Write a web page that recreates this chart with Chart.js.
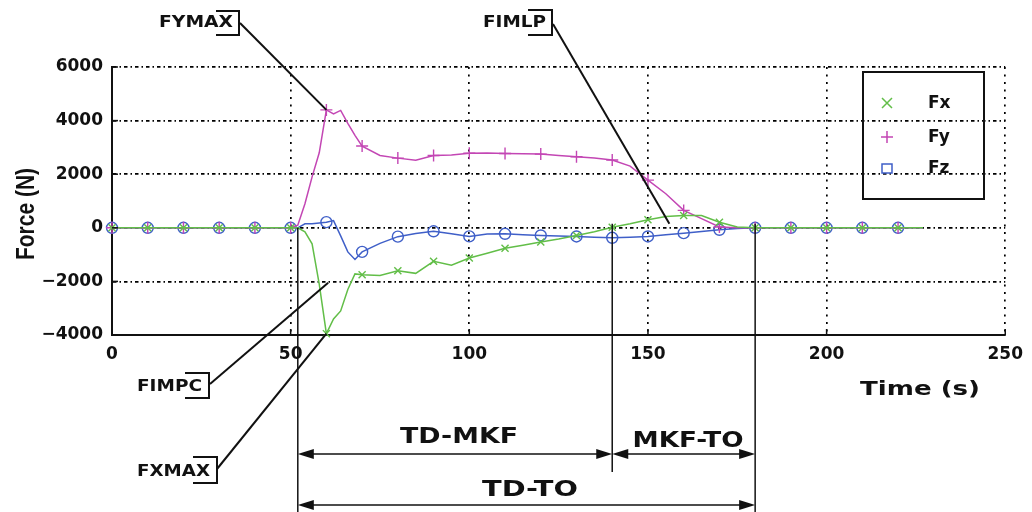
<!DOCTYPE html>
<html>
<head>
<meta charset="utf-8">
<script src="https://cdn.jsdelivr.net/npm/chart.js@4.4.1/dist/chart.umd.min.js"></script>
<style>
html, body { margin: 0; padding: 0; background: #fff; }
canvas { display: block; }
</style>
</head>
<body>
<canvas id="forceChart" width="1032" height="512"></canvas>
<script>
// time samples (s) and force components (N)
const time = [0, 10, 20, 30, 40, 50, 52, 54, 56, 58, 60, 62, 64, 66, 68, 70,
  75, 80, 85, 90, 95, 100, 105, 110, 115, 120, 125, 130, 135, 140, 145, 150, 155, 160, 165, 170, 175,
  180, 190, 200, 210, 220, 227];
const fx = [0, 0, 0, 0, 0, 0, 0, -150, -600, -2100, -3950, -3400, -3100, -2300, -1720, -1750,
  -1780, -1600, -1700, -1250, -1400, -1130, -950, -760, -650, -530, -420, -290, -150, 20, 150, 300, 420, 460, 460, 210, 30,
  0, 0, 0, 0, 0, 0];
const fy = [0, 0, 0, 0, 0, 0, 100, 900, 1900, 2800, 4400, 4250, 4380, 3900, 3450, 3050,
  2700, 2600, 2520, 2700, 2720, 2780, 2790, 2770, 2760, 2750, 2700, 2650, 2600, 2530, 2300, 1780, 1270, 650, 340, 30, 0,
  0, 0, 0, 0, 0, 0];
const fz = [0, 0, 0, 0, 0, 0, 0, 150, 150, 180, 210, 270, -300, -900, -1180, -900,
  -580, -330, -210, -130, -220, -320, -230, -224, -260, -286, -305, -323, -350, -373, -350, -323, -260, -199, -140, -75, -30,
  0, 0, 0, 0, 0, 0];
const markerTimes = [0, 10, 20, 30, 40, 50, 60, 70, 80, 90, 100, 110, 120, 130, 140, 150, 160, 170, 180, 190, 200, 210, 220];
const xTicks = [0, 50, 100, 150, 200, 250];
const yTicks = [-4000, -2000, 0, 2000, 4000, 6000];
const seriesNames = ['Fx', 'Fy', 'Fz'];
const colors = ['#62be48', '#c346b4', '#3f5fc8'];

// phase boundaries (s): touch down, max knee flexion, toe off
const tTD = 52, tMKF = 140, tTO = 180;

function series(label, values, color, style, radius) {
    return {
        label: label,
        data: time.map((t, i) => ({ x: t, y: values[i] })),
        borderColor: color,
        borderWidth: 1.5,
        pointStyle: style,
        pointRadius: ctx => markerTimes.includes(time[ctx.dataIndex]) ? radius : 0,
        pointHoverRadius: 0,
        pointBorderColor: color,
        pointBackgroundColor: 'rgba(0,0,0,0)',
        pointBorderWidth: 1.4,
        tension: 0,
        fill: false,
        clip: false,
    };
}

// stretch text horizontally to a given width
function wideText(ctx, txt, cx, base, w, font) {
    ctx.font = font;
    const m = ctx.measureText(txt).width;
    ctx.save();
    ctx.translate(cx, base);
    ctx.scale(w / m, 1);
    ctx.textAlign = 'center';
    ctx.textBaseline = 'alphabetic';
    ctx.fillText(txt, 0, 0);
    ctx.restore();
}

function line(ctx, x1, y1, x2, y2) {
    ctx.beginPath();
    ctx.moveTo(x1, y1);
    ctx.lineTo(x2, y2);
    ctx.stroke();
}

function arrowHead(ctx, tipX, y, dir) {
    ctx.beginPath();
    ctx.moveTo(tipX, y);
    ctx.lineTo(tipX - dir * 16, y - 5);
    ctx.lineTo(tipX - dir * 16, y + 5);
    ctx.closePath();
    ctx.fill();
}

function span(ctx, xa, xb, y) {
    line(ctx, xa + 4, y, xb - 4, y);
    arrowHead(ctx, xa, y, -1);
    arrowHead(ctx, xb, y, 1);
}

function marker(ctx, style, px, py, r) {
    ctx.beginPath();
    if (style === 'crossRot') {
        ctx.moveTo(px - r, py - r); ctx.lineTo(px + r, py + r);
        ctx.moveTo(px - r, py + r); ctx.lineTo(px + r, py - r);
    } else if (style === 'cross') {
        ctx.moveTo(px - r, py); ctx.lineTo(px + r, py);
        ctx.moveTo(px, py - r); ctx.lineTo(px, py + r);
    } else {
        ctx.rect(px - r, py - r + 1, 2 * r, 2 * r - 1);
    }
    ctx.stroke();
}

const annotate = {
    id: 'annotate',
    afterDraw(chart) {
        const { ctx, scales: { x, y } } = chart;
        ctx.save();
        ctx.strokeStyle = '#111';
        ctx.fillStyle = '#111';

        // inward tick marks
        ctx.lineWidth = 1.5;
        yTicks.forEach(v => line(ctx, x.left, y.getPixelForValue(v), x.left + 6, y.getPixelForValue(v)));
        xTicks.forEach(v => line(ctx, x.getPixelForValue(v), y.bottom, x.getPixelForValue(v), y.bottom - 6));

        // phase markers and spans
        const pTD = x.getPixelForValue(tTD), pMKF = x.getPixelForValue(tMKF), pTO = x.getPixelForValue(tTO);
        ctx.lineWidth = 1.5;
        line(ctx, pTD, y.getPixelForValue(0), pTD, 512);
        line(ctx, pMKF, y.getPixelForValue(150), pMKF, 472);
        line(ctx, pTO, y.getPixelForValue(150), pTO, 512);
        span(ctx, pTD, pMKF, 454);
        span(ctx, pMKF, pTO, 454);
        span(ctx, pTD, pTO, 505);
        wideText(ctx, 'TD-MKF', 459, 443, 118, 'bold 21px "DejaVu Sans"');
        wideText(ctx, 'MKF-TO', 688, 447, 111, 'bold 21px "DejaVu Sans"');
        wideText(ctx, 'TD-TO', 530, 496, 96, 'bold 21px "DejaVu Sans"');

        // callouts
        const iMaxY = fy.indexOf(Math.max(...fy));
        const iMinX = fx.indexOf(Math.min(...fx));
        const callouts = [
            { text: 'FYMAX', cx: 196, base: 27, w: 74, bx0: 216, bx1: 239, by0: 11, by1: 35, from: [240, 23], to: [time[iMaxY], fy[iMaxY]] },
            { text: 'FIMLP', cx: 514.5, base: 27, w: 63, bx0: 528, bx1: 552, by0: 10, by1: 35, from: [553, 24], to: [156, 150] },
            { text: 'FIMPC', cx: 169.5, base: 391, w: 65, bx0: 185, bx1: 209, by0: 373, by1: 398, from: [210, 384], to: [60.5, -2050] },
            { text: 'FXMAX', cx: 173.5, base: 476, w: 73, bx0: 193, bx1: 217, by0: 457, by1: 483, from: [217, 469], to: [time[iMinX], fx[iMinX]] },
        ];
        callouts.forEach(c => {
            wideText(ctx, c.text, c.cx, c.base, c.w, 'bold 15.5px "DejaVu Sans"');
            ctx.lineWidth = 2;
            ctx.beginPath();
            ctx.moveTo(c.bx0, c.by0);
            ctx.lineTo(c.bx1, c.by0);
            ctx.lineTo(c.bx1, c.by1);
            ctx.lineTo(c.bx0, c.by1);
            ctx.stroke();
            line(ctx, c.from[0], c.from[1], x.getPixelForValue(c.to[0]), y.getPixelForValue(c.to[1]));
        });

        // axis titles
        wideText(ctx, 'Time (s)', 920, 395, 120, 'bold 20px "DejaVu Sans"');
        ctx.save();
        ctx.translate(25, 214);
        ctx.rotate(-Math.PI / 2);
        wideText(ctx, 'Force (N)', 0, 9, 92, 'bold 26px "Liberation Sans"');
        ctx.restore();

        // legend
        ctx.lineWidth = 2;
        ctx.strokeRect(863, 72, 121, 127);
        const styles = ['crossRot', 'cross', 'rect'];
        const rows = [103, 137, 168];
        seriesNames.forEach((name, i) => {
            ctx.strokeStyle = colors[i];
            ctx.lineWidth = 1.5;
            marker(ctx, styles[i], 887, rows[i], i === 1 ? 6 : 5);
            ctx.fillStyle = '#111';
            ctx.font = 'bold 17px "DejaVu Sans"';
            ctx.textAlign = 'left';
            ctx.textBaseline = 'middle';
            ctx.fillText(name, 928, rows[i] + 1);
        });
        ctx.restore();
    }
};

const tickFont = { family: 'DejaVu Sans', size: 17, weight: 'bold' };

new Chart(document.getElementById('forceChart'), {
    type: 'line',
    data: {
        datasets: [
            series(seriesNames[0], fx, colors[0], 'crossRot', 5),
            series(seriesNames[1], fy, colors[1], 'cross', 6),
            series(seriesNames[2], fz, colors[2], 'circle', 5.5),
        ],
    },
    options: {
        responsive: false,
        animation: false,
        devicePixelRatio: 1,
        layout: { padding: { top: 67, right: 21, left: 0, bottom: 0 } },
        plugins: { legend: { display: false }, tooltip: { enabled: false } },
        scales: {
            x: {
                type: 'linear',
                min: 0,
                max: 250,
                afterBuildTicks: s => { s.ticks = xTicks.map(v => ({ value: v })); },
                afterFit: s => { s.height = 177; },
                ticks: { color: '#111', font: tickFont, padding: 9, maxRotation: 0, callback: v => String(v) },
                grid: { color: '#000', lineWidth: 1.7, drawTicks: false },
                border: { display: true, color: '#111', width: 2, dash: [2, 5.5] },
            },
            y: {
                min: -4000,
                max: 6000,
                afterBuildTicks: s => { s.ticks = yTicks.map(v => ({ value: v })); },
                afterFit: s => { s.width = 112; },
                ticks: { color: '#111', font: tickFont, padding: 9, callback: v => String(v).replace('-', '\u2212') },
                grid: { color: '#000', lineWidth: 1.7, drawTicks: false },
                border: { display: true, color: '#111', width: 2, dash: [3.5, 3, 1.5, 3] },
            },
        },
    },
    plugins: [annotate],
});
</script>
</body>
</html>
